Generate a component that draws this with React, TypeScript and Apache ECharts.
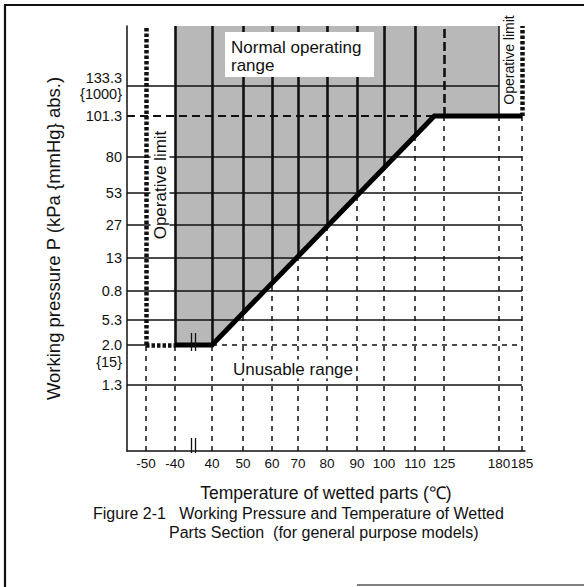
import React, { useEffect, useRef } from 'react';
import * as echarts from 'echarts';

// ---- data (schematic axes: each tick sits at its own position on the drawing) ----
const xTickTemps = [-50, -40, 40, 50, 60, 70, 80, 90, 100, 110, 125, 180, 185];
const xTickPos = [19, 48, 85, 116, 145, 171, 200, 230, 257, 288, 317, 372, 395];
const yTickValues = ['133.3', '101.3', '80', '53', '27', '13', '0.8', '5.3', '2.0', '1.3'];
const yTickSub = ['{1000}', '', '', '', '', '', '', '', '{15}', ''];
const yTickPos = [365, 335, 294, 258, 226, 193, 160, 131, 106, 66];

// usable-range boundary (temperature °C, pressure tick)
const limitTemps = [-40, 40, 120, 185];
const limitPress = ['2.0', '2.0', '101.3', '101.3'];
const operativeLimits = [-50, 185];
const shadeTemps = [-40, 180];
const breakTemp = 0;

const X_MAX = 398;
const Y_MAX = 425;

const FONT = '"Liberation Sans", Arial, Helvetica, sans-serif';

function tx(t: number): number {
  for (let i = 0; i < xTickTemps.length - 1; i++) {
    const a = xTickTemps[i], b = xTickTemps[i + 1];
    if (t >= a && t <= b) {
      return xTickPos[i] + ((t - a) / (b - a)) * (xTickPos[i + 1] - xTickPos[i]);
    }
  }
  return t < xTickTemps[0] ? xTickPos[0] : xTickPos[xTickPos.length - 1];
}
function py(label: string): number {
  return yTickPos[yTickValues.indexOf(label)];
}
const limitPts = limitTemps.map((t, i) => [tx(t), py(limitPress[i])]);
function boundaryY(xp: number): number {
  for (let i = 0; i < limitPts.length - 1; i++) {
    const [x1, y1] = limitPts[i];
    const [x2, y2] = limitPts[i + 1];
    if (xp >= x1 && xp <= x2) return y1 + ((xp - x1) / (x2 - x1)) * (y2 - y1);
  }
  return xp < limitPts[0][0] ? limitPts[0][1] : limitPts[limitPts.length - 1][1];
}

const INK = '#111';
const thinSolid = { color: INK, width: 1.5, type: 'solid' };
const thinDash = { color: INK, width: 1.5, type: [5, 5] };
const midDash = { color: INK, width: 1.8, type: [8, 5] };
const thickSolid = { color: INK, width: 2.6, type: 'solid' };
const thickDash = { color: INK, width: 2.6, type: [9, 4] };
const dotted = { color: INK, width: 4.5, type: [3.5, 2] };

function buildSegments() {
  const segs: any[] = [];
  const add = (a: number[], b: number[], style: any) =>
    segs.push({ coords: [a, b], lineStyle: { ...style, opacity: 1 } });
  xTickTemps.forEach((t, i) => {
    const x = xTickPos[i];
    const b = t < shadeTemps[0] ? py('2.0') : boundaryY(x);
    add([x, 0], [x, b], thinDash);
    let up: any = thickSolid;
    if (operativeLimits.includes(t)) up = dotted;
    else if (t === 125) up = thickDash;
    else if (t === shadeTemps[1]) up = thinSolid;
    add([x, b], [x, Y_MAX], up);
  });
  yTickValues.forEach((v, i) => {
    const y = yTickPos[i];
    if (v === '133.3') add([0, y], [tx(shadeTemps[1]), y], thinSolid);
    else if (v === '101.3') add([0, y], [tx(limitTemps[2]), y], midDash);
    else if (v === '2.0') {
      add([0, y], [tx(operativeLimits[0]), y], thinSolid);
      add([tx(operativeLimits[0]), y], [tx(shadeTemps[0]), y], dotted);
      add([tx(limitTemps[1]), y], [tx(operativeLimits[1]), y], thinDash);
    } else add([0, y], [tx(operativeLimits[1]), y], thinSolid);
  });
  return segs;
}

function buildBreaks() {
  const bx = tx(breakTemp);
  const y2 = py('2.0');
  const st = { color: INK, width: 1.3, opacity: 1 };
  return [
    { coords: [[bx - 2, y2 - 6], [bx - 2, y2 + 12]], lineStyle: st },
    { coords: [[bx + 2, y2 - 6], [bx + 2, y2 + 12]], lineStyle: st },
    { coords: [[bx - 2, -2], [bx - 2, 13]], lineStyle: st },
    { coords: [[bx + 2, -2], [bx + 2, 13]], lineStyle: st },
  ];
}

export default function App() {
  const ref = useRef<HTMLDivElement>(null);
  useEffect(() => {
    if (!ref.current) return;
    const chart = echarts.init(ref.current, undefined, { renderer: 'svg' });
    const shadePoly = [
      [tx(shadeTemps[0]), Y_MAX],
      [tx(shadeTemps[1]), Y_MAX],
      [tx(shadeTemps[1]), py('101.3')],
      ...limitPts.slice(0, 3).reverse(),
    ];
    const option: any = {
      animation: false,
      backgroundColor: '#fff',
      textStyle: { fontFamily: FONT },
      grid: { left: 127, right: 59, top: 26, bottom: 136, containLabel: false, outerBoundsMode: 'none' },
      xAxis: {
        type: 'value',
        min: 0,
        max: X_MAX,
        splitLine: { show: false },
        axisTick: { show: false },
        axisLine: { show: true, onZero: false, lineStyle: { color: INK, width: 1.5 } },
        axisLabel: {
          customValues: xTickPos,
          hideOverlap: false,
          formatter: (v: number) => {
            const i = xTickPos.indexOf(v);
            return i >= 0 ? String(xTickTemps[i]) : '';
          },
          color: INK,
          fontSize: 13.5,
          fontFamily: FONT,
          margin: 5,
        },
        name: 'Temperature of wetted parts (℃)',
        nameLocation: 'middle',
        nameGap: 33,
        nameTextStyle: { color: INK, fontSize: 17.5, fontFamily: FONT },
      },
      yAxis: {
        type: 'value',
        min: 0,
        max: Y_MAX,
        splitLine: { show: false },
        axisTick: { show: false },
        axisLine: { show: true, onZero: false, lineStyle: { color: INK, width: 1.5 } },
        axisLabel: {
          customValues: yTickPos,
          hideOverlap: false,
          formatter: (v: number) => {
            const i = yTickPos.indexOf(v);
            if (i < 0) return '';
            const sub = yTickSub[i];
            if (!sub) return yTickValues[i];
            return i === yTickValues.indexOf('2.0')
              ? '\n' + yTickValues[i] + '\n' + sub
              : yTickValues[i] + '\n' + sub;
          },
          color: INK,
          fontSize: 14.5,
          lineHeight: 16.5,
          fontFamily: FONT,
          margin: 5,
        },
        name: 'Working pressure P (kPa {mmHg} abs.)',
        nameLocation: 'middle',
        nameRotate: 90,
        nameGap: 64,
        nameTextStyle: { color: INK, fontSize: 18.5, fontFamily: FONT },
      },
      series: [
        {
          type: 'custom',
          coordinateSystem: 'cartesian2d',
          silent: true,
          z: 1,
          data: [[0, 0]],
          renderItem: (_p: any, api: any) => ({
            type: 'polygon',
            shape: { points: shadePoly.map((p) => api.coord(p)) },
            style: { fill: '#b8b8b8' },
          }),
        },
        {
          type: 'lines',
          coordinateSystem: 'cartesian2d',
          silent: true,
          z: 3,
          clip: false,
          lineStyle: { opacity: 1 },
          data: buildSegments(),
        },
        {
          type: 'line',
          silent: true,
          z: 5,
          symbol: 'none',
          clip: false,
          lineStyle: { color: '#000', width: 5, join: 'miter' },
          data: limitPts,
        },
        {
          type: 'lines',
          coordinateSystem: 'cartesian2d',
          silent: true,
          z: 6,
          clip: false,
          lineStyle: { opacity: 1 },
          data: buildBreaks(),
        },
      ],
      graphic: [
        { type: 'line', z: 100, shape: { x1: 5, y1: 5, x2: 5, y2: 587 }, style: { stroke: '#111', lineWidth: 2.2 } },
        { type: 'line', z: 100, shape: { x1: 4, y1: 5, x2: 584, y2: 5 }, style: { stroke: '#111', lineWidth: 2.2 } },
        { type: 'line', z: 100, shape: { x1: 357, y1: 585, x2: 584, y2: 585 }, style: { stroke: '#555', lineWidth: 1.5 } },
        { type: 'rect', z: 100, shape: { x: 225, y: 32, width: 149, height: 45 }, style: { fill: '#fff' } },
        { type: 'text', z: 101, x: 231, y: 47, style: { text: 'Normal operating', font: `17px ${FONT}`, fill: INK, align: 'left', verticalAlign: 'middle' } },
        { type: 'text', z: 101, x: 231, y: 65, style: { text: 'range', font: `17px ${FONT}`, fill: INK, align: 'left', verticalAlign: 'middle' } },
        { type: 'text', z: 101, x: 231, y: 369, style: { text: 'Unusable range', font: `17px ${FONT}`, fill: INK, align: 'left', verticalAlign: 'middle', backgroundColor: '#fff', padding: [1, 2, 1, 2] } },
        { type: 'text', z: 101, x: 160, y: 185, rotation: Math.PI / 2, style: { text: 'Operative limit', font: `17px ${FONT}`, fill: INK, align: 'center', verticalAlign: 'middle', backgroundColor: '#fff', padding: [1, 1, 1, 1] } },
        { type: 'text', z: 101, x: 509, y: 60, rotation: Math.PI / 2, style: { text: 'Operative limit', font: `14px ${FONT}`, fill: INK, align: 'center', verticalAlign: 'middle' } },
        { type: 'text', z: 101, x: 93, y: 513, style: { text: 'Figure 2-1   Working Pressure and Temperature of Wetted', font: `16px ${FONT}`, fill: INK, align: 'left', verticalAlign: 'middle' } },
        { type: 'text', z: 101, x: 169, y: 532, style: { text: 'Parts Section  (for general purpose models)', font: `16px ${FONT}`, fill: INK, align: 'left', verticalAlign: 'middle' } },
      ],
    };
    chart.setOption(option);
    return () => chart.dispose();
  }, []);
  return (
    <div
      ref={ref}
      style={{ position: 'fixed', left: 0, top: 0, width: 584, height: 587, background: '#fff' }}
    />
  );
}
